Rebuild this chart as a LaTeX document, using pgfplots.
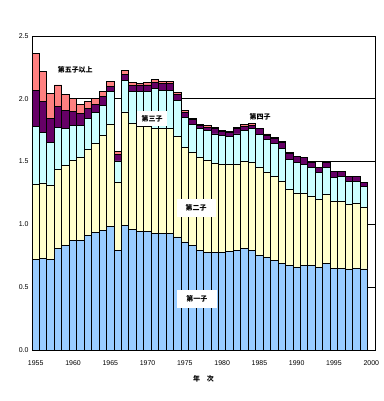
\documentclass[border=0pt]{standalone}
\usepackage{pgfplots}
\pgfplotsset{compat=1.18}
\usepackage{pgfplotstable}
\usepackage{fontspec}
\setmainfont{Liberation Sans}
\newfontfamily\cjk{Noto Sans CJK JP}
\definecolor{cfirst}{HTML}{99CCFF}
\definecolor{csecond}{HTML}{FFFFCC}
\definecolor{cthird}{HTML}{CCFFFF}
\definecolor{cfourth}{HTML}{660066}
\definecolor{cfifth}{HTML}{FF8080}
\pgfplotstableread{
year first second third fourth fifth
1955 0.720 0.600 0.460 0.290 0.290
1956 0.730 0.600 0.405 0.240 0.245
1957 0.720 0.590 0.345 0.190 0.200
1958 0.810 0.630 0.335 0.165 0.170
1959 0.835 0.635 0.295 0.145 0.125
1960 0.870 0.640 0.280 0.110 0.100
1961 0.870 0.660 0.260 0.095 0.070
1962 0.910 0.690 0.245 0.075 0.060
1963 0.935 0.710 0.245 0.065 0.045
1964 0.955 0.755 0.240 0.065 0.040
1965 0.985 0.810 0.260 0.045 0.035
1966 0.795 0.540 0.170 0.050 0.025
1967 0.995 0.900 0.250 0.050 0.030
1968 0.960 0.845 0.250 0.050 0.025
1969 0.940 0.840 0.280 0.050 0.015
1970 0.940 0.840 0.280 0.050 0.020
1971 0.925 0.840 0.320 0.045 0.025
1972 0.930 0.835 0.300 0.055 0.020
1973 0.925 0.835 0.310 0.050 0.020
1974 0.900 0.800 0.285 0.050 0.015
1975 0.860 0.755 0.240 0.035 0.015
1976 0.830 0.745 0.220 0.040 0.010
1977 0.795 0.735 0.230 0.025 0.010
1978 0.780 0.730 0.240 0.025 0.010
1979 0.780 0.705 0.235 0.040 0.010
1980 0.780 0.700 0.225 0.035 0.010
1981 0.785 0.690 0.225 0.030 0.010
1982 0.795 0.685 0.240 0.040 0.010
1983 0.810 0.690 0.250 0.030 0.015
1984 0.795 0.700 0.265 0.030 0.010
1985 0.755 0.700 0.260 0.045 0.005
1986 0.740 0.675 0.260 0.030 0.015
1987 0.715 0.670 0.260 0.040 0.005
1988 0.690 0.655 0.260 0.050 0.005
1989 0.670 0.605 0.245 0.045 0.005
1990 0.660 0.590 0.240 0.050 0.000
1991 0.675 0.570 0.235 0.050 0.000
1992 0.670 0.555 0.230 0.040 0.000
1993 0.660 0.540 0.210 0.040 0.000
1994 0.690 0.550 0.210 0.040 0.000
1995 0.650 0.535 0.190 0.045 0.000
1996 0.650 0.535 0.195 0.040 0.000
1997 0.645 0.515 0.180 0.045 0.000
1998 0.650 0.520 0.170 0.045 0.000
1999 0.645 0.490 0.165 0.035 0.000
}\births

\begin{document}
\begin{tikzpicture}
\path[use as bounding box] (0,0) rectangle (384bp,401bp);
\begin{axis}[
  at={(32bp,51bp)}, anchor=south west,
  scale only axis, width=343bp, height=314bp,
  ybar stacked, bar width=1,
  xmin=1954.5, xmax=2000.5, ymin=0, ymax=2.5,
  xtick={1955,1960,...,2000},
  ytick={0,0.5,...,2.5},
  major tick length=0pt,
  ymajorgrids, grid style={black, line width=0.8pt},
  axis line style={black, line width=0.9pt},
  tick label style={font=\fontsize{7}{8}\selectfont},
  /pgf/number format/assume math mode=true,
  xticklabel style={/pgf/number format/1000 sep={}, yshift=-7bp},
  yticklabel style={/pgf/number format/.cd, fixed, fixed zerofill, precision=1},
  xlabel={\cjk\bfseries 年\quad 次},
  xlabel style={at={(axis description cs:0.5,0)}, anchor=center, yshift=-29bp, font=\fontsize{7}{8}\selectfont},
  every axis plot/.append style={draw=black, line width=0.9pt},
]
\addplot[fill=cfirst] table[x=year, y=first] {\births};
\addplot[fill=csecond] table[x=year, y=second] {\births};
\addplot[fill=cthird] table[x=year, y=third] {\births};
\addplot[fill=cfourth] table[x=year, y=fourth] {\births};
\addplot[fill=cfifth] table[x=year, y=fifth] {\births};
\coordinate (l5) at (axis cs:1960.3,2.232);
\coordinate (l3) at (axis cs:1970.6,1.841);
\coordinate (l4) at (axis cs:1985.1,1.857);
\coordinate (l2) at (axis cs:1976.5,1.132);
\coordinate (l1) at (axis cs:1976.6,0.409);
\end{axis}
\tikzset{lab/.style={font=\cjk\bfseries\fontsize{7}{8}\selectfont}}
\node[lab] at (l5) {第五子以上};
\node[lab, fill=white, inner sep=0pt, minimum width=30bp, minimum height=15bp] at (l3) {第三子};
\node[lab] at (l4) {第四子};
\node[lab, fill=white, inner sep=0pt, minimum width=39bp, minimum height=18bp] at (l2) {第二子};
\node[lab, fill=white, inner sep=0pt, minimum width=40bp, minimum height=18bp] at (l1) {第一子};
\end{tikzpicture}
\end{document}
